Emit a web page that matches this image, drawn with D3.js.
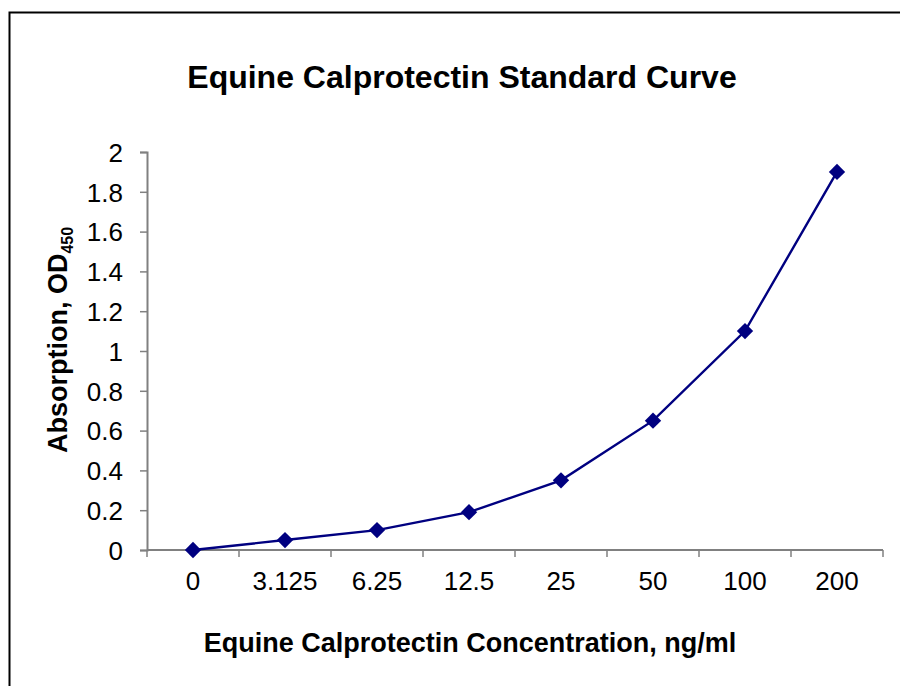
<!DOCTYPE html>
<html>
<head>
<meta charset="utf-8">
<script src="https://cdn.jsdelivr.net/npm/d3@7"></script>
<style>
  body { margin: 0; background: #fff; }
  svg text { font-family: Arial, "Liberation Sans", sans-serif; }
</style>
</head>
<body>
<div id="chart"></div>
<script>
// chart data
const concentrations = ["0", "3.125", "6.25", "12.5", "25", "50", "100", "200"];
const absorption = [0, 0.05, 0.1, 0.19, 0.35, 0.65, 1.1, 1.9];
const yTicks = [0, 0.2, 0.4, 0.6, 0.8, 1, 1.2, 1.4, 1.6, 1.8, 2];

const width = 900, height = 686;
const margin = { top: 152, right: 17, bottom: 136, left: 147 };

const svg = d3.select("#chart").append("svg")
  .attr("width", width)
  .attr("height", height);

svg.append("rect")
  .attr("width", width)
  .attr("height", height)
  .attr("fill", "white");

// outer frame (runs off the right and bottom edges)
svg.append("rect")
  .attr("x", 9.5)
  .attr("y", 12.5)
  .attr("width", width)
  .attr("height", height)
  .attr("fill", "none")
  .attr("stroke", "black")
  .attr("stroke-width", 2);

const x = d3.scaleBand()
  .domain(concentrations)
  .range([margin.left, width - margin.right])
  .padding(0);

const y = d3.scaleLinear()
  .domain([0, 2])
  .range([height - margin.bottom, margin.top]);

const axisColor = "#808080";

// y axis
const yAxis = svg.append("g")
  .attr("transform", `translate(${margin.left},0)`)
  .call(d3.axisLeft(y).tickValues(yTicks).tickSize(7).tickPadding(17)
    .tickFormat(d3.format("~g")));
yAxis.select(".domain").attr("stroke", axisColor).attr("stroke-width", 2);
yAxis.selectAll(".tick line").attr("stroke", axisColor).attr("stroke-width", 1.5);
yAxis.selectAll(".tick text")
  .attr("font-size", 26)
  .attr("fill", "black")
  .attr("dy", "0.36em");

// x axis with tick marks between categories
const xAxis = svg.append("g")
  .attr("transform", `translate(0,${y(0)})`);
xAxis.append("line")
  .attr("x1", margin.left)
  .attr("x2", width - margin.right)
  .attr("stroke", axisColor)
  .attr("stroke-width", 2);
const boundaries = concentrations.map(c => x(c)).concat([x.range()[1]]);
xAxis.selectAll(".xtick")
  .data(boundaries)
  .enter()
  .append("line")
  .attr("class", "xtick")
  .attr("x1", d => d)
  .attr("x2", d => d)
  .attr("y1", 0)
  .attr("y2", 7)
  .attr("stroke", axisColor)
  .attr("stroke-width", 1.5);
xAxis.selectAll(".xlabel")
  .data(concentrations)
  .enter()
  .append("text")
  .attr("class", "xlabel")
  .attr("x", d => x(d) + x.bandwidth() / 2)
  .attr("y", 40)
  .attr("text-anchor", "middle")
  .attr("font-size", 26)
  .text(d => d);

// line + diamond markers
const pts = concentrations.map((c, i) => [x(c) + x.bandwidth() / 2, y(absorption[i])]);
svg.append("path")
  .datum(pts)
  .attr("fill", "none")
  .attr("stroke", "#000080")
  .attr("stroke-width", 2.4)
  .attr("d", d3.line());

svg.selectAll(".marker")
  .data(pts)
  .enter()
  .append("path")
  .attr("class", "marker")
  .attr("transform", d => `translate(${d[0]},${d[1]})`)
  .attr("d", d3.symbol().type(d3.symbolDiamond2).size(170))
  .attr("fill", "#000080");

// title
svg.append("text")
  .attr("x", 462)
  .attr("y", 88)
  .attr("text-anchor", "middle")
  .attr("font-size", 32)
  .attr("font-weight", "bold")
  .text("Equine Calprotectin Standard Curve");

// x axis title
svg.append("text")
  .attr("x", 470)
  .attr("y", 652)
  .attr("text-anchor", "middle")
  .attr("font-size", 27)
  .attr("font-weight", "bold")
  .text("Equine Calprotectin Concentration, ng/ml");

// y axis title with subscript
const yt = svg.append("text")
  .attr("transform", "translate(67,340) rotate(-90)")
  .attr("text-anchor", "middle")
  .attr("font-size", 27)
  .attr("font-weight", "bold");
yt.append("tspan").text("Absorption, OD");
yt.append("tspan")
  .attr("font-size", 16)
  .attr("dy", 6)
  .text("450");
</script>
</body>
</html>
